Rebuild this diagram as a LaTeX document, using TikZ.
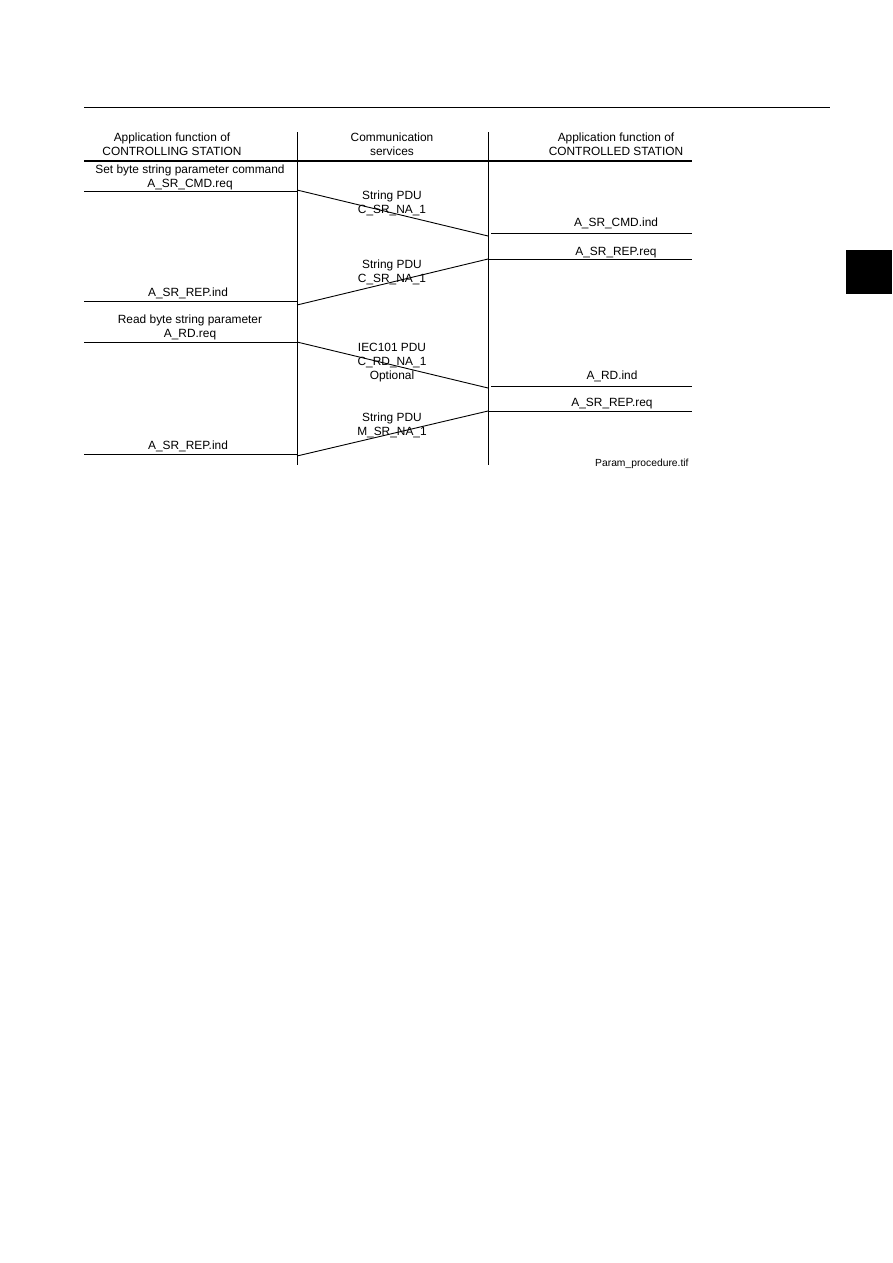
\documentclass[tikz,border=0pt]{standalone}
\usepackage{fontspec}
\setmainfont{Liberation Sans}
\begin{document}
\begin{tikzpicture}[x=1pt,y=-1pt,line width=0.9pt,
  lbl/.style={font=\fontsize{11.9}{14.2}\selectfont,align=center,inner sep=0pt,text depth=0pt,anchor=south},
  fname/.style={font=\fontsize{10.3}{12}\selectfont,inner sep=0pt,text depth=0pt,anchor=south east},
  msg/.style={line width=0.9pt},
  rule/.style={line width=0.9pt},
  hrule/.style={line width=2pt}]
\useasboundingbox (0,0) rectangle (893,1263);

% page rule and tab
\draw[rule] (84,107) -- (830,107);
\fill[black] (846,250) rectangle (892,294);

% column lines
\coordinate (m0) at (297,132); \coordinate (m1) at (297,465);
\coordinate (r0) at (488,132); \coordinate (r1) at (488,465);
\draw (m0) -- (m1);
\draw (r0) -- (r1);
\coordinate (h0) at (84,161); \coordinate (h1) at (692,161);
\draw[hrule] (h0) -- (h1);

% headers
\node[lbl] (hL) at (172,156) {Application function of\\CONTROLLING STATION};
\node[lbl] (hM) at (392,156) {Communication\\services};
\node[lbl] (hR) at (616,156) {Application function of\\CONTROLLED STATION};

% first exchange
\node[lbl] (t1) at (190,188) {Set byte string parameter command\\A\_SR\_CMD.req};
\coordinate (a0) at (84,191); \coordinate (a1) at (297,191);
\draw (a0) -- (a1);
\coordinate (d1s) at (297,190); \coordinate (d1e) at (488,236);
\draw[msg] (d1s) -- (d1e);
\node[lbl] (p1) at (392,214) {String PDU\\C\_SR\_NA\_1};
\coordinate (b0) at (491,233); \coordinate (b1) at (692,233);
\draw (b0) -- (b1);
\node[lbl] (t2) at (616,227) {A\_SR\_CMD.ind};

\coordinate (c0) at (488,259); \coordinate (c1) at (692,259);
\draw (c0) -- (c1);
\node[lbl] (t3) at (616,256) {A\_SR\_REP.req};
\coordinate (d2e) at (297,305);
\draw[msg] (c0) -- (d2e);
\node[lbl] (p2) at (392,283) {String PDU\\C\_SR\_NA\_1};
\coordinate (e0) at (84,301); \coordinate (e1) at (297,301);
\draw (e0) -- (e1);
\node[lbl] (t4) at (188,297) {A\_SR\_REP.ind};

% second exchange
\node[lbl] (t5) at (190,338) {Read byte string parameter\\A\_RD.req};
\coordinate (f0) at (84,342); \coordinate (f1) at (297,342);
\draw (f0) -- (f1);
\coordinate (d3e) at (488,388);
\draw[msg] (f1) -- (d3e);
\node[lbl] (p3) at (392,380) {IEC101 PDU\\C\_RD\_NA\_1\\Optional};
\coordinate (g0) at (491,386); \coordinate (g1) at (692,386);
\draw (g0) -- (g1);
\node[lbl] (t6) at (612,380) {A\_RD.ind};

\coordinate (k0) at (488,411); \coordinate (k1) at (692,411);
\draw (k0) -- (k1);
\node[lbl] (t7) at (612,407) {A\_SR\_REP.req};
\coordinate (d4e) at (297,456);
\draw[msg] (k0) -- (d4e);
\node[lbl] (p4) at (392,436) {String PDU\\M\_SR\_NA\_1};
\coordinate (n0) at (84,454); \coordinate (n1) at (297,454);
\draw (n0) -- (n1);
\node[lbl] (t8) at (188,450) {A\_SR\_REP.ind};

\node[fname] (fn) at (689,467) {Param\_procedure.tif};
\end{tikzpicture}
\end{document}
